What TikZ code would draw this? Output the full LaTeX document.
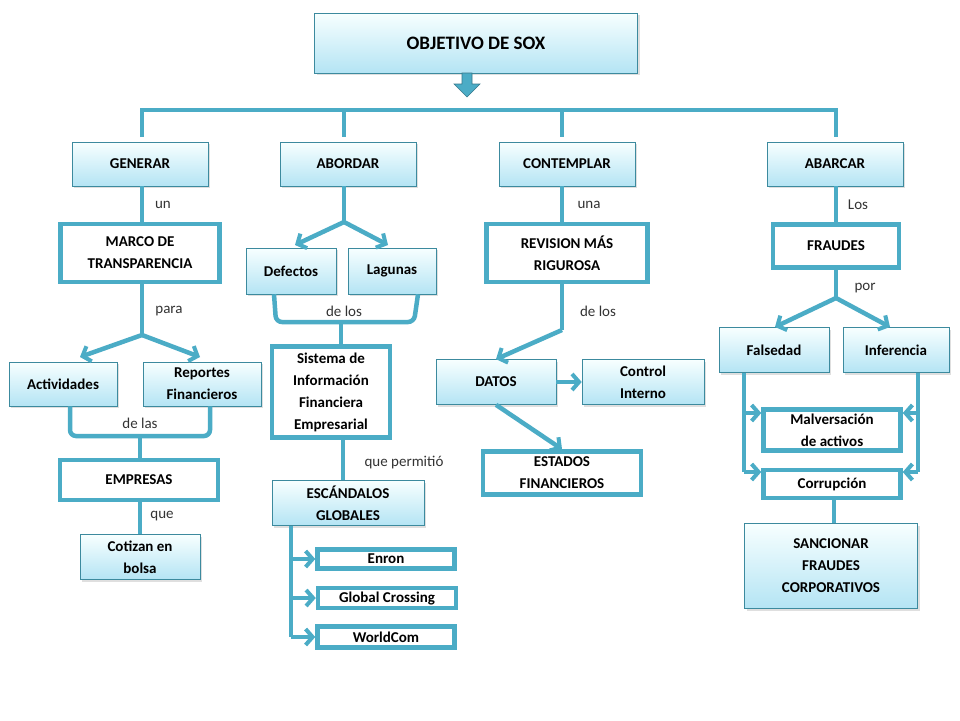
\documentclass[tikz,border=0pt]{standalone}
\usepackage{fontspec}
\setmainfont{Carlito}
\usetikzlibrary{arrows.meta,shadows}
\definecolor{ln}{HTML}{4BACC6}
\definecolor{bx}{HTML}{B4E4F4}
\begin{document}
\begin{tikzpicture}[x=1pt,y=-1pt,
  lbl/.style={font=\fontsize{15}{22}\selectfont\bfseries,align=center,text=black},
  sbox/.style={lbl,draw=ln!80!black,line width=0.6pt,top color=cyan!3,bottom color=bx,
     drop shadow={shadow xshift=2pt,shadow yshift=-2pt,opacity=0.25},inner sep=0pt},
  tbox/.style={lbl,draw=ln,line width=4.5pt,fill=white,inner sep=0pt},
  con/.style={draw=ln,line width=4.5pt},
  arr/.style={con,-{Straight Barb[length=7pt,width=16pt,line width=4pt]}},
  word/.style={font=\fontsize{15}{18}\selectfont,text=black!80}]
\useasboundingbox (0,0) rectangle (960,720);
\fill[white] (0,0) rectangle (960,720);
% nodes
\node[sbox,minimum width=323,minimum height=60,font=\fontsize{19}{22}\selectfont\bfseries] (t) at (476,43) {OBJETIVO DE SOX};
\node[sbox,minimum width=136,minimum height=44] (gen) at (140,164) {GENERAR};
\node[sbox,minimum width=136,minimum height=44] (abo) at (348,164) {ABORDAR};
\node[sbox,minimum width=136,minimum height=44] (con) at (567,164) {CONTEMPLAR};
\node[sbox,minimum width=136,minimum height=44] (aba) at (835,164) {ABARCAR};
\node[tbox,minimum width=159,minimum height=58] (marco) at (140,253) {MARCO DE\\TRANSPARENCIA};
\node[sbox,minimum width=90,minimum height=46] (def) at (291,271) {Defectos};
\node[sbox,minimum width=88,minimum height=46] (lag) at (392,271) {Lagunas};
\node[tbox,minimum width=118,minimum height=91] (sis) at (331,392) {Sistema de\\Información\\Financiera\\Empresarial};
\node[sbox,minimum width=152,minimum height=45] (esc) at (348,503) {ESCÁNDALOS\\GLOBALES};
\node[tbox,minimum width=137,minimum height=19] (enr) at (386,559) {Enron};
\node[tbox,minimum width=138,minimum height=20] (glo) at (387,598) {Global Crossing};
\node[tbox,minimum width=137,minimum height=21] (wor) at (386,637) {WorldCom};
\node[sbox,minimum width=108,minimum height=44] (act) at (63,384) {Actividades};
\node[sbox,minimum width=118,minimum height=44] (rep) at (202,384) {Reportes\\Financieros};
\node[tbox,minimum width=158,minimum height=40] (emp) at (139,480) {EMPRESAS};
\node[sbox,minimum width=120,minimum height=45] (cot) at (140,557) {Cotizan en\\bolsa};
\node[tbox,minimum width=161,minimum height=58] (rev) at (567,253) {REVISION MÁS\\RIGUROSA};
\node[sbox,minimum width=120,minimum height=45] (dat) at (496,382) {DATOS};
\node[sbox,minimum width=122,minimum height=45] (ctl) at (643,382) {Control\\Interno};
\node[tbox,minimum width=158,minimum height=43] (est) at (562,473) {ESTADOS\\FINANCIEROS};
\node[tbox,minimum width=126,minimum height=43] (fra) at (836,246) {FRAUDES};
\node[sbox,minimum width=110,minimum height=45] (fal) at (774,350) {Falsedad};
\node[sbox,minimum width=106,minimum height=45] (inf) at (896,350) {Inferencia};
\node[tbox,minimum width=137,minimum height=41] (mal) at (832,430) {Malversación\\de activos};
\node[tbox,minimum width=137,minimum height=28] (cor) at (832,484) {Corrupción};
\node[sbox,minimum width=173,minimum height=85] (san) at (831,566) {SANCIONAR\\FRAUDES\\CORPORATIVOS};
% title arrow
\fill[ln,draw=ln!70!black,line width=0.6pt] (462,73)--(472,73)--(472,84)--(480,84)--(467,97)--(454,84)--(462,84)--cycle;
% bus
\coordinate (b1) at (142,110); \coordinate (b4) at (836,110);
\draw[con] (142,137)--(b1)--(b4)--(836,137);
\draw[con] (344,110)--(344,137);
\draw[con] (562,110)--(562,137);
% generar branch
\draw[con] (gen.south -| 142,0)--(marco.north -| 142,0);
\node[word] (w1) at (163,205) {un};
\coordinate (m1) at (142,335);
\draw[con] (marco.south -| 142,0)--(m1);
\draw[arr] (m1)--(80,357);
\draw[arr] (m1)--(200,357);
\node[word] (w2) at (169,311) {para};
\coordinate (ej) at (140,436);
\draw[con,rounded corners=6pt] (act.south -| 70,0)--(70,436)--(210,436)--(rep.south -| 210,0);
\draw[con] (ej)--(emp.north -| 140,0);
\node[word] (w3) at (140,423) {de las};
\draw[con] (emp.south -| 140,0)--(cot.north -| 140,0);
\node[word] (w4) at (162,516) {que};
% abordar
\coordinate (a1) at (344,222);
\draw[con] (abo.south -| 344,0)--(a1);
\draw[arr] (a1)--(295,245);
\draw[arr] (a1)--(388,245);
\draw[con,rounded corners=6pt] (def.south -| 274,0)--(276,322)--(414,322)--(lag.south -| 418,0);
\draw[con] (341,322)--(sis.north -| 341,0);
\node[word] (w5) at (344,311) {de los};
\draw[con] (sis.south -| 343,0)--(esc.north -| 343,0);
\node[word] (w6) at (404,463) {que permitió};
\draw[con] (esc.south -| 291,0)--(291,637);
\draw[arr] (291,559)--(enr.west);
\draw[arr] (291,598)--(glo.west);
\draw[arr] (291,637)--(wor.west);
% contemplar
\draw[con] (con.south -| 562,0)--(rev.north -| 562,0);
\node[word] (w7) at (589,205) {una};
\coordinate (c1) at (562,330);
\draw[con] (rev.south -| 562,0)--(c1);
\draw[arr] (c1)--(dat.north);
\node[word] (w8) at (598,311) {de los};
\draw[arr] (dat.east)--(ctl.west);
\draw[arr] (dat.south)--(est.north);
% abarcar
\draw[con] (aba.south -| 836,0)--(fra.north -| 836,0);
\node[word] (w9) at (858,205) {Los};
\coordinate (f1) at (836,298);
\draw[con] (fra.south -| 836,0)--(f1);
\draw[arr] (f1)--(775,327);
\draw[arr] (f1)--(890,327);
\node[word] (w10) at (865,288) {por};
\draw[con] (fal.south -| 744,0)--(744,472);
\draw[arr] (744,413)--(mal.west |- 0,413);
\draw[arr] (744,472)--(cor.west |- 0,472);
\draw[con] (inf.south -| 918,0)--(918,472);
\draw[arr] (918,413)--(mal.east |- 0,413);
\draw[arr] (918,472)--(cor.east |- 0,472);
\draw[con] (cor.south -| 834,0)--(san.north -| 834,0);
\end{tikzpicture}
\end{document}
